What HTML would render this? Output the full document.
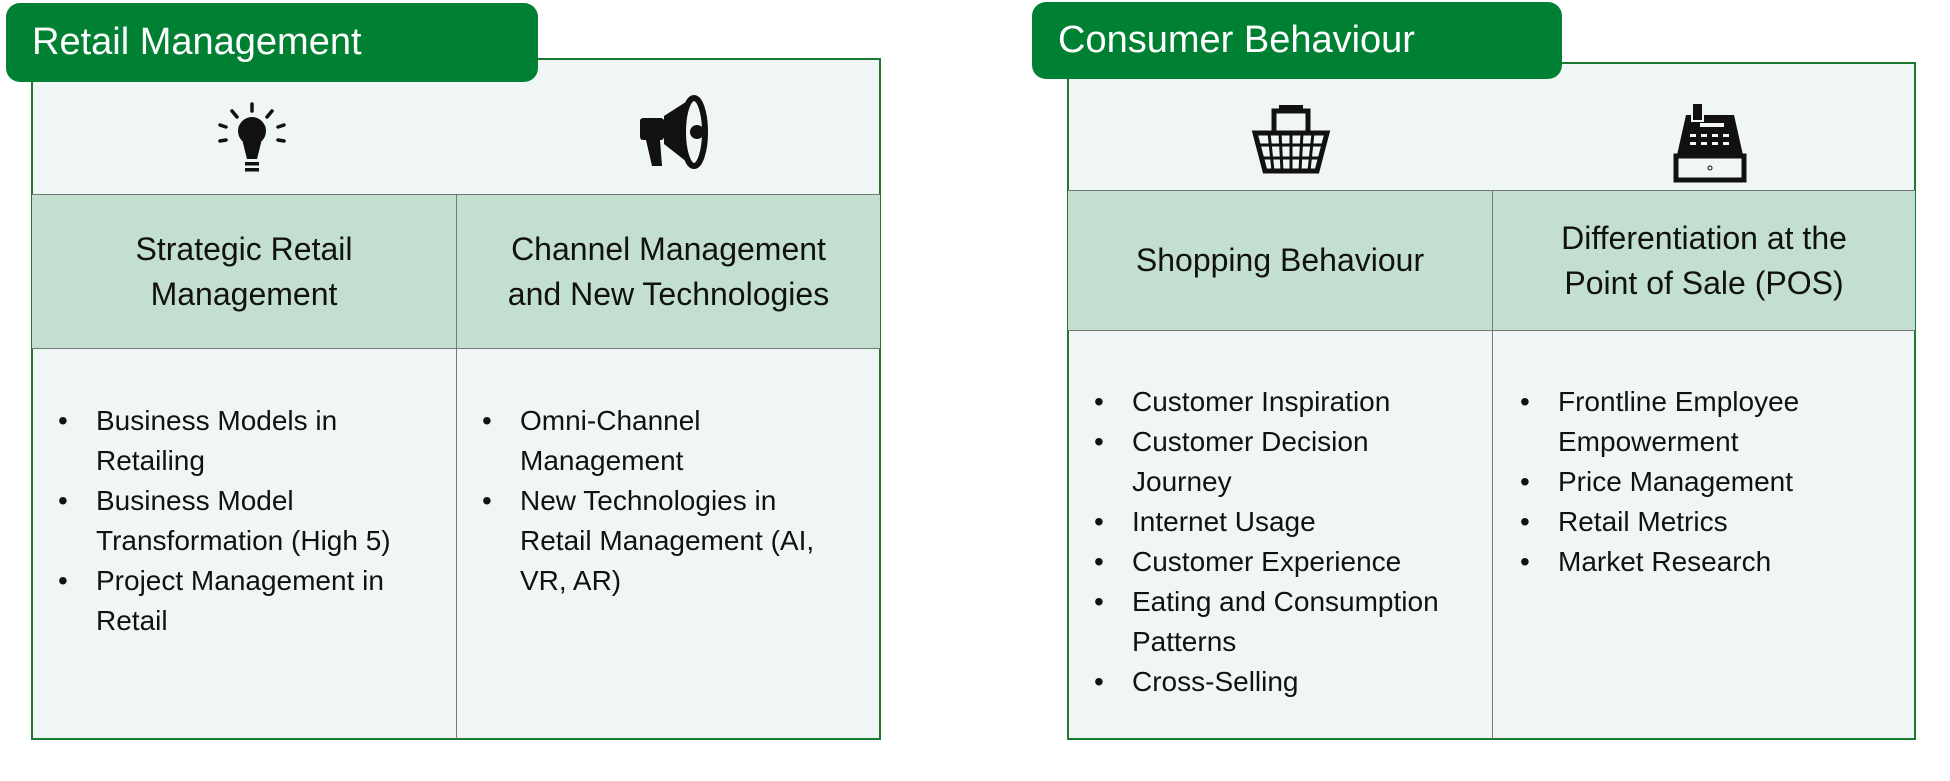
<!DOCTYPE html>
<html><head><meta charset="utf-8"><style>
body{margin:0;width:1950px;height:781px;background:#fff;position:relative;overflow:hidden;font-family:"Liberation Sans",sans-serif;color:#111}
.box{position:absolute;background:#f0f6f5;border:2px solid #1b7a30;box-sizing:border-box}
.tab{position:absolute;background:#008033;color:#fff;border-radius:14px;font-size:38px;box-sizing:border-box;padding-left:26px;display:flex;align-items:center}
.hdr{position:absolute;background:#c2dfd0;border-top:1.5px solid #777;border-bottom:1.5px solid #777;box-sizing:border-box}
.vl{position:absolute;width:1px;background:#777}
.ht{position:absolute;text-align:center;font-size:32px;line-height:45px;display:flex;align-items:center;justify-content:center;white-space:nowrap}
ul{position:absolute;margin:0;padding:0;list-style:none;font-size:28px;line-height:40px;white-space:nowrap}
li{position:relative;padding-left:38px}
li:before{content:"•";position:absolute;left:0}
</style></head><body>
<div class="box" style="left:31px;top:58px;width:850px;height:682px"></div>
<div class="hdr" style="left:32px;top:194px;width:848px;height:155px"></div>
<div class="vl" style="left:456px;top:194px;height:545px"></div>
<div class="tab" style="left:6px;top:3px;width:532px;height:79px">Retail Management</div>
<div class="ht" style="left:32px;top:194px;width:424px;height:155px">Strategic Retail<br>Management</div>
<div class="ht" style="left:457px;top:194px;width:423px;height:155px">Channel Management<br>and New Technologies</div>
<ul style="left:58px;top:401px"><li>Business Models in<br>Retailing</li><li>Business Model<br>Transformation (High 5)</li><li>Project Management in<br>Retail</li></ul>
<ul style="left:482px;top:401px"><li>Omni-Channel<br>Management</li><li>New Technologies in<br>Retail Management (AI,<br>VR, AR)</li></ul>

<div class="box" style="left:1067px;top:62px;width:849px;height:678px"></div>
<div class="hdr" style="left:1068px;top:190px;width:847px;height:141px"></div>
<div class="vl" style="left:1492px;top:190px;height:549px"></div>
<div class="tab" style="left:1032px;top:2px;width:530px;height:77px">Consumer Behaviour</div>
<div class="ht" style="left:1068px;top:190px;width:424px;height:141px">Shopping Behaviour</div>
<div class="ht" style="left:1493px;top:190px;width:422px;height:141px">Differentiation at the<br>Point of Sale (POS)</div>
<ul style="left:1094px;top:382px"><li>Customer Inspiration</li><li>Customer Decision<br>Journey</li><li>Internet Usage</li><li>Customer Experience</li><li>Eating and Consumption<br>Patterns</li><li>Cross-Selling</li></ul>
<ul style="left:1520px;top:382px"><li>Frontline Employee<br>Empowerment</li><li>Price Management</li><li>Retail Metrics</li><li>Market Research</li></ul>

<svg width="1950" height="781" style="position:absolute;left:0;top:0">
<g transform="translate(252,137)" fill="#111" stroke="#111">
<circle cx="0" cy="-6" r="14" stroke="none"/><path d="M-10 2 L-5 22 L5 22 L10 2 Z" stroke="none"/>
<rect x="-7" y="25" width="14" height="3.5" stroke="none"/><rect x="-7" y="31" width="14" height="3.5" stroke="none"/>
<g stroke-width="3.5" stroke-linecap="round"><line x1="0" y1="-33" x2="0" y2="-26"/><line x1="-20" y1="-26" x2="-15" y2="-20"/><line x1="20" y1="-26" x2="15" y2="-20"/><line x1="-32" y1="-12" x2="-26" y2="-10"/><line x1="32" y1="-12" x2="26" y2="-10"/><line x1="-32" y1="4" x2="-26" y2="3"/><line x1="32" y1="4" x2="26" y2="3"/></g></g>
<g transform="translate(680,132)" fill="#111" stroke="#111">
<rect x="-40" y="-14" width="24" height="22" rx="3" stroke="none"/>
<path d="M-16 -16 L12 -34 L12 34 L-16 12 Z" stroke="none"/>
<ellipse cx="14" cy="0" rx="11" ry="34" fill="#f0f6f5" stroke-width="6"/>
<circle cx="17" cy="0" r="7" stroke="none"/>
<path d="M-34 8 L-28 34 L-18 34 L-20 8 Z" stroke="none"/></g>
<g transform="translate(1291,139)" fill="none" stroke="#111" stroke-width="5">
<path d="M-17 -6 L-17 -28 L17 -28 L17 -6"/><rect x="-12" y="-34" width="24" height="7" fill="#111" stroke="none"/>
<path d="M-36 -6 L36 -6 L26 32 L-26 32 Z" stroke-width="5"/>
<g stroke-width="3"><line x1="-32" y1="6" x2="32" y2="6"/><line x1="-29" y1="19" x2="29" y2="19"/><line x1="-11" y1="-6" x2="-9" y2="32"/><line x1="0" y1="-6" x2="0" y2="32"/><line x1="11" y1="-6" x2="9" y2="32"/><line x1="-22" y1="-6" x2="-18" y2="32"/><line x1="22" y1="-6" x2="18" y2="32"/></g></g>
<g transform="translate(1710,137)" fill="#111">
<path d="M-33 18 L-24 -22 L24 -22 L33 18 Z"/><rect x="-18" y="-34" width="11" height="18" fill="#111" stroke="#f0f6f5" stroke-width="2"/>
<rect x="-10" y="-14" width="24" height="4" fill="#f0f6f5"/>
<g fill="#f0f6f5"><rect x="-20" y="-3" width="6" height="3"/><rect x="-9" y="-3" width="6" height="3"/><rect x="2" y="-3" width="6" height="3"/><rect x="13" y="-3" width="6" height="3"/><rect x="-20" y="5" width="6" height="3"/><rect x="-9" y="5" width="6" height="3"/><rect x="2" y="5" width="6" height="3"/><rect x="13" y="5" width="6" height="3"/></g>
<rect x="-34" y="19" width="68" height="24" fill="none" stroke="#111" stroke-width="5"/><circle cx="0" cy="31" r="2" fill="none" stroke="#111"/></g>
</svg>
</body></html>
